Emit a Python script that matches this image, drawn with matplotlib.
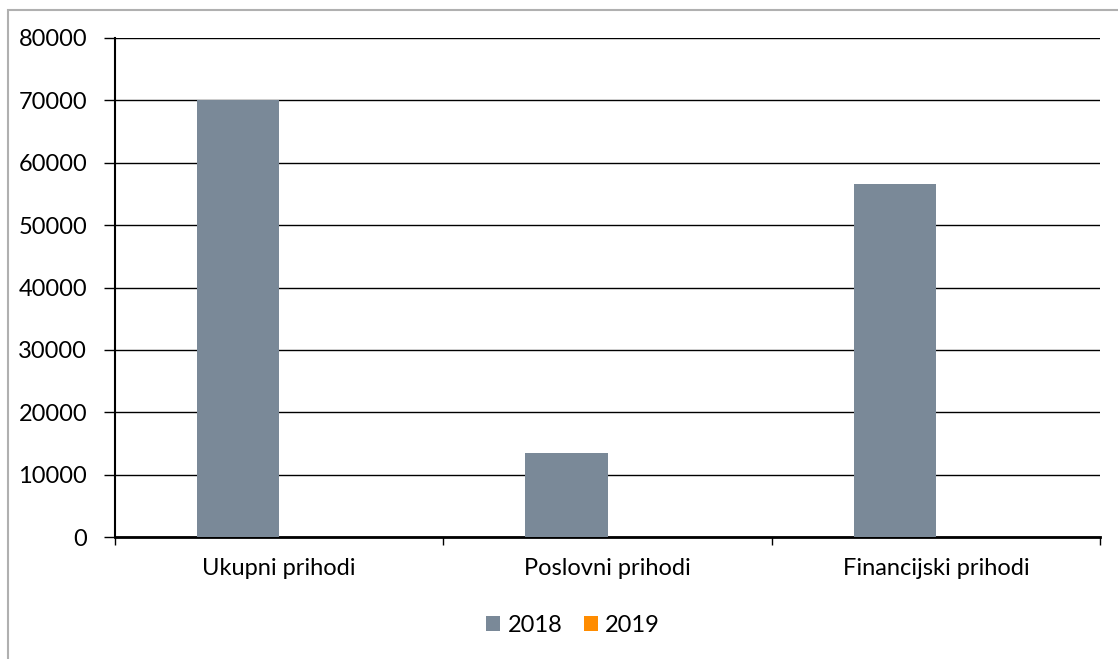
import numpy as np
import matplotlib.pyplot as plt
from matplotlib.patches import Rectangle

plt.rcParams['font.family'] = ['Lato', 'DejaVu Sans']

categories = ['Ukupni prihodi', 'Poslovni prihodi', 'Financijski prihodi']
series = ['2018', '2019']
values_2018 = [70000, 13450, 56600]
values_2019 = [0, 0, 0]
colors = ['#7a8998', '#ff8c00']

fig = plt.figure(figsize=(11.18, 6.59), dpi=100)
ax = fig.add_axes([115/1118, 1 - 537/659, 985/1118, 499/659])

# outer chart frame
fig.patches.append(Rectangle((8/1118, -0.1), 1.2, 1 - 9.5/659 + 0.1, transform=fig.transFigure,
                             fill=False, edgecolor='#b0b0b0', linewidth=1.5))

x = np.arange(len(categories))
w = 0.25
ax.bar(x - w/2, values_2018, w, color=colors[0], label=series[0], zorder=3)
ax.bar(x + w/2, values_2019, w, color=colors[1], label=series[1], zorder=3)

ax.set_xlim(-0.5, len(categories) - 0.5)
ax.set_ylim(0, 80000)
ax.set_yticks(np.arange(0, 80001, 10000))
ax.yaxis.grid(True, color='black', linewidth=1)
ax.set_axisbelow(True)
ax.set_xticks(x)
ax.set_xticklabels(categories, fontsize=17)
ax.set_xticks(np.arange(-0.5, len(categories)), minor=True)
ax.tick_params(axis='x', which='major', length=0, pad=15)
ax.tick_params(axis='x', which='minor', length=6, width=1)
ax.tick_params(axis='y', length=8, width=1, labelsize=17, pad=12)
for s in ['top', 'right']:
    ax.spines[s].set_visible(False)
ax.spines['left'].set_linewidth(1.5)
ax.spines['bottom'].set_linewidth(2)

fig.legend(loc='center', bbox_to_anchor=(573/1118, 1 - 625/659), ncol=2, frameon=False,
           fontsize=17, handlelength=0.6, handleheight=0.6, handletextpad=0.3, columnspacing=0.9)

plt.savefig('out.png', dpi=100)
